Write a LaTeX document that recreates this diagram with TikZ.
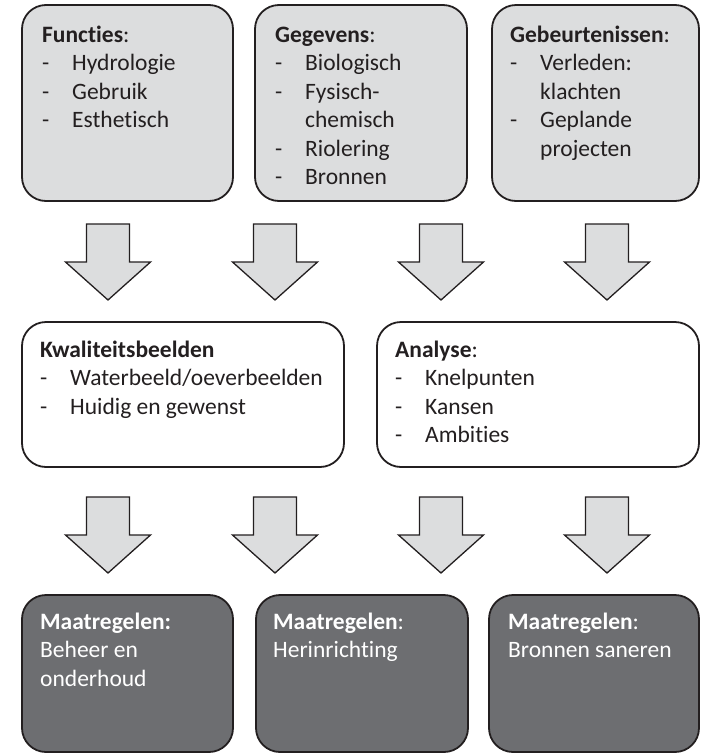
\documentclass[tikz,border=0pt]{standalone}
\usepackage{fontspec}
\setmainfont[Ligatures=NoCommon]{Carlito}
\usetikzlibrary{positioning}
\definecolor{paleGray}{HTML}{DCDDDE}
\definecolor{deepGray}{HTML}{6D6E71}
\definecolor{inkGray}{HTML}{231F20}
\newcommand{\dashitem}[1]{\makebox[30pt][l]{-}#1}
\newcommand{\nodash}[1]{\hspace*{30pt}#1}
\tikzset{
  topbox/.style={rectangle, rounded corners=24pt, draw=inkGray, line width=1.8pt, fill=paleGray, anchor=north west, inner sep=0pt, outer sep=0pt},
  midbox/.style={topbox, fill=white},
  endbox/.style={topbox, fill=deepGray},
  boxtext/.style={anchor=base west, inner sep=0pt, text=inkGray, font=\fontsize{23.5}{28.5}\selectfont},
  endtext/.style={boxtext, text=white},
  arrowshape/.style={draw=inkGray, line width=1.3pt, fill=paleGray, line join=miter},
  pics/downarrow/.style={code={
    \draw[arrowshape] (-21.5,0) -- (21.5,0) -- (21.5,38) -- (42.5,38) -- (0,76) -- (-42.5,38) -- (-21.5,38) -- cycle;}}
}

\begin{document}
\begin{tikzpicture}[x=1pt, y=-1pt]
  \useasboundingbox (0,0) rectangle (701,753);

  % top row
  \node [topbox, minimum width=211pt, minimum height=196pt] (functies) at (22,5) {};
  \node [topbox, minimum width=212pt, minimum height=196pt] (gegevens) at (255,5) {};
  \node [topbox, minimum width=207pt, minimum height=196pt] (gebeurtenissen) at (492,5) {};
  \node [boxtext] (functiesText) at ([shift={(20,37)}]functies.north west)
    {\parbox[t]{190pt}{\raggedright\textbf{Functies}:\\ \dashitem{Hydrologie}\\ \dashitem{Gebruik}\\ \dashitem{Esthetisch}}};
  \node [boxtext] (gegevensText) at ([shift={(20,37)}]gegevens.north west)
    {\parbox[t]{190pt}{\raggedright\textbf{Gegevens}:\\ \dashitem{Biologisch}\\ \dashitem{Fysisch-}\\ \nodash{chemisch}\\ \dashitem{Riolering}\\ \dashitem{Bronnen}}};
  \node [boxtext] (gebeurtenissenText) at ([shift={(18,37)}]gebeurtenissen.north west)
    {\parbox[t]{190pt}{\raggedright\textbf{Gebeurtenissen}:\\ \dashitem{Verleden:}\\ \nodash{klachten}\\ \dashitem{Geplande}\\ \nodash{projecten}}};

  % middle row
  \node [midbox, minimum width=322pt, minimum height=145pt] (kwaliteit) at (22,322) {};
  \node [midbox, minimum width=322pt, minimum height=145pt] (analyse) at (377,322) {};
  \node [boxtext] (kwaliteitText) at ([shift={(18,35)}]kwaliteit.north west)
    {\parbox[t]{300pt}{\raggedright\textbf{Kwaliteitsbeelden}\\ \dashitem{Waterbeeld/oeverbeelden}\\ \dashitem{Huidig en gewenst}}};
  \node [boxtext] (analyseText) at ([shift={(18,35)}]analyse.north west)
    {\parbox[t]{300pt}{\raggedright\textbf{Analyse}:\\ \dashitem{Knelpunten}\\ \dashitem{Kansen}\\ \dashitem{Ambities}}};

  % bottom row
  \node [endbox, minimum width=211pt, minimum height=157pt] (beheer) at (22,595) {};
  \node [endbox, minimum width=212pt, minimum height=157pt] (herinrichting) at (256,595) {};
  \node [endbox, minimum width=210pt, minimum height=157pt] (saneren) at (489,595) {};
  \node [endtext] (beheerText) at ([shift={(18,34)}]beheer.north west)
    {\parbox[t]{190pt}{\raggedright\textbf{Maatregelen:}\\ Beheer en\\ onderhoud}};
  \node [endtext] (herinrichtingText) at ([shift={(17,34)}]herinrichting.north west)
    {\parbox[t]{190pt}{\raggedright\textbf{Maatregelen}:\\ Herinrichting}};
  \node [endtext] (sanerenText) at ([shift={(19,34)}]saneren.north west)
    {\parbox[t]{190pt}{\raggedright\textbf{Maatregelen}:\\ Bronnen saneren}};

  % block arrows
  \foreach \ax in {108,275,441,607} {
    \pic at (\ax,224) {downarrow};
    \pic at (\ax,497) {downarrow};
  }
\end{tikzpicture}
\end{document}
